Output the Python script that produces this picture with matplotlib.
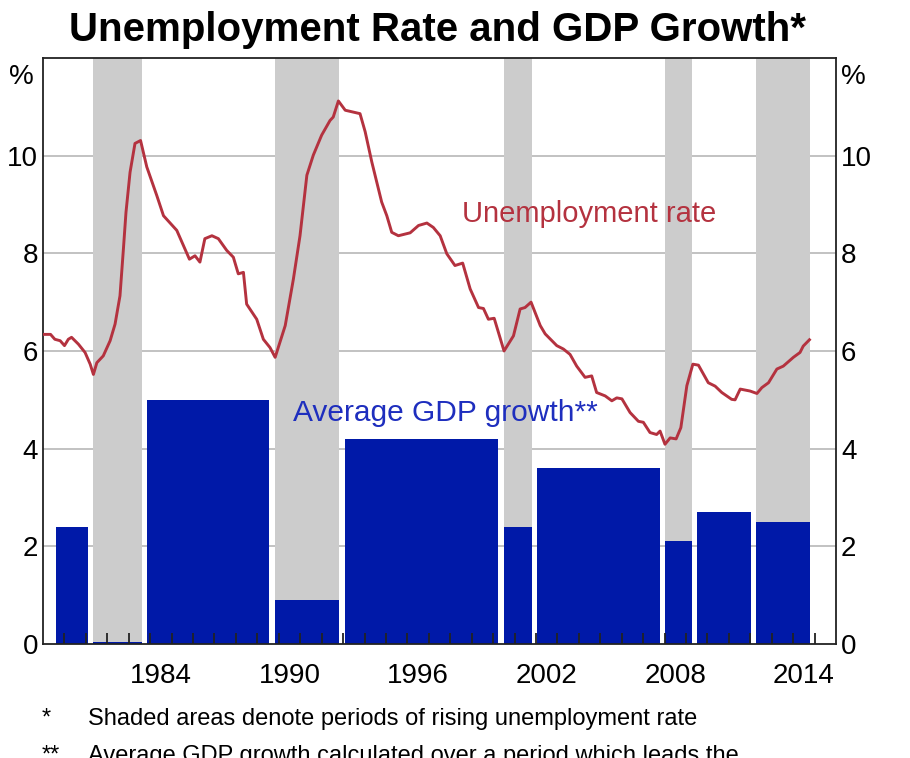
import numpy as np
import matplotlib
matplotlib.use("Agg")
import matplotlib.pyplot as plt
import matplotlib.transforms as mtransforms

plt.rcParams['font.family'] = ['Liberation Sans', 'DejaVu Sans']

# unemployment rate
unemp_year = [1979.05, 1979.35, 1979.55, 1979.8, 1980.0, 1980.18, 1980.33, 1980.65, 1980.96,
              1981.2, 1981.35, 1981.51, 1981.81, 1982.13, 1982.36, 1982.59, 1982.75, 1982.87,
              1983.06, 1983.29, 1983.55, 1983.84, 1984.31, 1984.62, 1985.24, 1985.55, 1985.83,
              1986.09, 1986.32, 1986.55, 1986.88, 1987.18, 1987.57, 1987.88, 1988.11, 1988.35,
              1988.5, 1988.97, 1989.28, 1989.59, 1989.83, 1990.3, 1990.68, 1990.99, 1991.31,
              1991.61, 1992.0, 1992.39, 1992.54, 1992.78, 1993.1, 1993.79, 1994.03, 1994.34,
              1994.8, 1995.04, 1995.27, 1995.58, 1996.13, 1996.52, 1996.91, 1997.21, 1997.53,
              1997.84, 1998.22, 1998.58, 1998.93, 1999.32, 1999.55, 1999.78, 2000.05, 2000.51,
              2000.95, 2001.26, 2001.49, 2001.77, 2002.2, 2002.43, 2002.97, 2003.28, 2003.59,
              2003.9, 2004.29, 2004.6, 2004.83, 2005.23, 2005.54, 2005.77, 2006.01, 2006.39,
              2006.78, 2007.01, 2007.32, 2007.63, 2007.79, 2008.02, 2008.26, 2008.54, 2008.76,
              2009.04, 2009.32, 2009.58, 2010.04, 2010.36, 2010.67, 2011.13, 2011.29, 2011.53,
              2011.99, 2012.31, 2012.54, 2012.85, 2013.24, 2013.54, 2014.01, 2014.32, 2014.47,
              2014.76]
unemp_rate = [6.34, 6.34, 6.24, 6.21, 6.11, 6.24, 6.28, 6.14, 5.97,
              5.73, 5.52, 5.76, 5.90, 6.21, 6.55, 7.13, 8.09, 8.84,
              9.66, 10.25, 10.31, 9.77, 9.18, 8.77, 8.47, 8.16, 7.88,
              7.95, 7.82, 8.30, 8.36, 8.30, 8.06, 7.92, 7.58, 7.61,
              6.96, 6.65, 6.24, 6.07, 5.87, 6.52, 7.47, 8.36, 9.60,
              10.01, 10.42, 10.72, 10.79, 11.12, 10.93, 10.86, 10.49, 9.87,
              9.05, 8.77, 8.43, 8.36, 8.42, 8.57, 8.62, 8.53, 8.36,
              7.99, 7.75, 7.80, 7.27, 6.89, 6.87, 6.65, 6.67, 6.00,
              6.31, 6.86, 6.89, 7.00, 6.52, 6.35, 6.11, 6.04, 5.93,
              5.69, 5.46, 5.49, 5.15, 5.08, 4.98, 5.04, 5.02, 4.74,
              4.56, 4.54, 4.33, 4.29, 4.36, 4.09, 4.22, 4.20, 4.43,
              5.29, 5.73, 5.71, 5.35, 5.28, 5.15, 5.01, 5.00, 5.22,
              5.18, 5.13, 5.25, 5.35, 5.63, 5.69, 5.87, 5.97, 6.10,
              6.23]

# average GDP growth periods
period_start = [1979.5, 1981.21, 1983.72, 1989.68, 1992.95, 2000.37, 2001.92, 2007.89, 2009.4, 2012.16]
period_end = [1981.21, 1983.72, 1989.68, 1992.95, 2000.37, 2001.92, 2007.89, 2009.4, 2012.16, 2014.92]
gdp_growth = [2.4, 0.05, 5.0, 0.9, 4.2, 2.4, 3.6, 2.1, 2.7, 2.5]
rising_unemp = [False, True, False, True, False, True, False, True, False, True]

year_labels = [1984, 1990, 1996, 2002, 2008, 2014]
y_ticks = [0, 2, 4, 6, 8, 10]

RED = '#B4323F'
BLUE = '#0019A8'
GREY = '#CCCCCC'

fig = plt.figure(figsize=(9.1, 7.58), dpi=100)
ax = fig.add_axes([0.0473, 0.1504, 0.8714, 0.7731])

gap = 0.25
starts = np.array(period_start) + gap / 2
widths = np.array(period_end) - np.array(period_start) - gap

for s, w, shade in zip(starts, widths, rising_unemp):
    if shade:
        ax.axvspan(s, s + w, color=GREY, lw=0, zorder=0.8)

for y in y_ticks[1:]:
    ax.axhline(y, color='#BDBDBD', lw=1.3, zorder=0.5)

ax.bar(starts, gdp_growth, width=widths, align='edge', color=BLUE, lw=0, zorder=1)
ax.plot(unemp_year, unemp_rate, color=RED, lw=2.1, zorder=3)

ax.set_xlim(1979, 2016)
ax.set_ylim(0, 12)

# yearly ticks inside, labels centred in the year
ax.set_xticks(np.arange(1980, 2016))
ax.set_xticklabels([])
ax.tick_params(axis='x', which='major', direction='in', length=8, width=1.3, color='#222222')
ax.set_xticks([y + 0.5 for y in year_labels], minor=True)
ax.set_xticklabels([str(y) for y in year_labels], minor=True)
ax.tick_params(axis='x', which='minor', length=0, labelsize=20, pad=14)

ax.set_yticks(y_ticks)
ax.tick_params(axis='y', which='both', length=0, labelsize=20, pad=3.5,
               left=True, right=True, labelleft=True, labelright=True)

for sp in ax.spines.values():
    sp.set_color('#222222')
    sp.set_linewidth(1.3)

trans = mtransforms.blended_transform_factory(ax.transAxes, ax.transData)
ax.text(-0.012, 11.62, '%', transform=trans, ha='right', va='center', fontsize=20)
ax.text(1.006, 11.62, '%', transform=trans, ha='left', va='center', fontsize=20)

ax.text(1998.55, 8.8, 'Unemployment rate', color=RED, fontsize=21, va='center', ha='left')
ax.text(1990.67, 4.72, 'Average GDP growth**', color='#1E2EBE', fontsize=21.5, va='center', ha='left')

fig.text(0.481, 0.986, 'Unemployment Rate and GDP Growth*', ha='center', va='top',
         fontsize=29, fontweight='bold')

fig.text(0.046, 1 - 719 / 758, '*', fontsize=17, va='center', ha='left')
fig.text(0.097, 1 - 719 / 758, 'Shaded areas denote periods of rising unemployment rate',
         fontsize=17, va='center', ha='left')
fig.text(0.046, 1 - 745 / 758, '**', fontsize=17, va='top', ha='left')
fig.text(0.097, 1 - 745 / 758, 'Average GDP growth calculated over a period which leads the',
         fontsize=17, va='top', ha='left')

fig.savefig('out.png', dpi=100)
